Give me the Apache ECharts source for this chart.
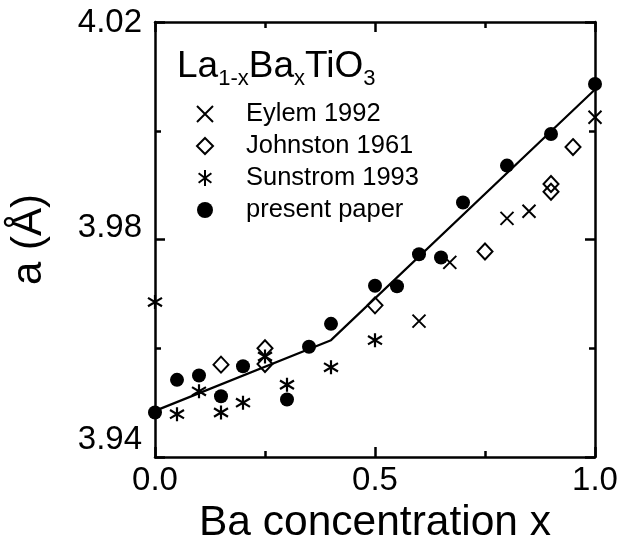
<!DOCTYPE html>
<html>
<head>
<meta charset="utf-8">
<script src="https://cdn.jsdelivr.net/npm/echarts@6/dist/echarts.min.js"></script>
<style>html,body{margin:0;padding:0;background:#fff}#c{width:621px;height:550px}</style>
</head>
<body>
<div id="c"></div>
<script>
// ---- data ----
const presentX = [0, 0.05, 0.1, 0.15, 0.2, 0.3, 0.35, 0.4, 0.5, 0.55, 0.6, 0.65, 0.7, 0.8, 0.9, 1.0];
const presentY = [3.9482, 3.9542, 3.9550, 3.9512, 3.9567, 3.9506, 3.9603, 3.9645, 3.9715, 3.9714, 3.9773, 3.9767, 3.9868, 3.9936, 3.9994, 4.0086];
const eylemX = [0.6, 0.67, 0.8, 0.85, 1.0];
const eylemY = [3.9650, 3.9758, 3.9839, 3.9852, 4.0025];
const johnstonX = [0.15, 0.25, 0.25, 0.5, 0.75, 0.9, 0.9, 0.95];
const johnstonY = [3.9570, 3.9600, 3.9571, 3.9679, 3.9778, 3.9902, 3.9888, 3.9970];
const sunstromX = [0, 0.05, 0.1, 0.15, 0.2, 0.25, 0.3, 0.4, 0.5];
const sunstromY = [3.9685, 3.9479, 3.9521, 3.9482, 3.9500, 3.9585, 3.9533, 3.9565, 3.9615];
const fitX = [0, 0.4, 1.0];
const fitY = [3.9485, 3.9615, 4.0076];
const xMajor = [0, 0.5, 1.0];
const xMinor = [0.25, 0.75];
const yMajor = [3.94, 3.98, 4.02];
const yMinor = [3.96, 4.00];
const names = ['Eylem 1992', 'Johnston 1961', 'Sunstrom 1993', 'present paper'];

const zip = (xs, ys) => xs.map((x, i) => [x, ys[i]]);
const FONT = 'Liberation Sans, Arial, Helvetica, sans-serif';
const BLACK = '#000';

const crossPath = 'path://M0,0L10,10M0,10L10,0';
const starPath = 'path://M5,0L5,10M1,2L9,8M1,8L9,2';

function xAxisDef(pos, ticks, len, showLine, showLabel) {
  return {
    type: 'value', position: pos, min: 0, max: 1, interval: 0.25,
    axisLine: {show: showLine, onZero: false, lineStyle: {color: BLACK, width: 2.5}},
    axisTick: {show: true, inside: true, length: len, customValues: ticks, lineStyle: {color: BLACK, width: 2.5}},
    axisLabel: showLabel ? {show: true, customValues: xMajor, margin: 7, color: BLACK, fontSize: 33, fontFamily: FONT,
      formatter: v => v.toFixed(1)} : {show: false},
    splitLine: {show: false}
  };
}
function yAxisDef(pos, ticks, len, showLine, showLabel) {
  return {
    type: 'value', position: pos, min: 3.94, max: 4.02, interval: 0.02,
    axisLine: {show: showLine, onZero: false, lineStyle: {color: BLACK, width: 2.5}},
    axisTick: {show: true, inside: true, length: len, customValues: ticks, lineStyle: {color: BLACK, width: 2.5}},
    axisLabel: showLabel ? {show: true, customValues: yMajor, margin: 13, color: BLACK, fontSize: 33, fontFamily: FONT,
      formatter: v => {
        const s = v.toFixed(2);
        if (Math.abs(v - 3.94) < 1e-6) return '{lo|' + s + '}';
        if (Math.abs(v - 3.98) < 1e-6) return '{mid|' + s + '}';
        return '{hi|' + s + '}';
      },
      rich: {
        lo: {fontSize: 33, fontFamily: FONT, color: BLACK, padding: [0, 0, 34, 0]},
        mid: {fontSize: 33, fontFamily: FONT, color: BLACK, padding: [0, 0, 24, 0]},
        hi: {fontSize: 33, fontFamily: FONT, color: BLACK, padding: [2, 0, 0, 0]}
      }} : {show: false},
    splitLine: {show: false}
  };
}

const xa0 = xAxisDef('bottom', xMajor, 10, true, true);
xa0.name = 'Ba concentration x';
xa0.nameLocation = 'middle';
xa0.nameGap = 33;
xa0.nameTextStyle = {fontSize: 42.5, color: BLACK, fontFamily: FONT};
const ya0 = yAxisDef('left', yMajor, 10, true, true);
ya0.name = 'a (Å)';
ya0.nameLocation = 'middle';
ya0.nameGap = 105;
ya0.nameTextStyle = {fontSize: 42, color: BLACK, fontFamily: FONT};

const option = {
  animation: false,
  backgroundColor: '#fff',
  grid: {left: 155, right: 26, top: 22, bottom: 89, containLabel: false},
  xAxis: [
    xa0,
    xAxisDef('bottom', xMinor, 6, false, false),
    xAxisDef('top', xMajor, 10, true, false),
    xAxisDef('top', xMinor, 6, false, false)
  ],
  yAxis: [
    ya0,
    yAxisDef('left', yMinor, 6, false, false),
    yAxisDef('right', yMajor, 10, true, false),
    yAxisDef('right', yMinor, 6, false, false)
  ],
  legend: {
    data: names,
    orient: 'vertical',
    left: 191, top: 96,
    itemWidth: 16, itemHeight: 16, itemGap: 6,
    itemStyle: {opacity: 1},
    textStyle: {fontSize: 25.5, lineHeight: 26, color: BLACK, fontFamily: FONT, padding: [0, 0, 0, 28]},
    selectedMode: false
  },
  graphic: [{
    type: 'text', left: 177, top: 40,
    style: {
      text: '{m|La}{s|1-x}{m|Ba}{s|x}{m|TiO}{s|3}',
      rich: {
        m: {fontSize: 37, fontFamily: FONT, fill: BLACK, lineHeight: 42, verticalAlign: 'top'},
        s: {fontSize: 22, fontFamily: FONT, fill: BLACK, lineHeight: 22, padding: [28, 0, 0, 0], verticalAlign: 'bottom'}
      }
    }
  }],
  series: [
    {
      name: 'fit', type: 'line', data: zip(fitX, fitY), showSymbol: false, symbol: 'none',
      lineStyle: {color: BLACK, width: 2.2}, z: 1, silent: true
    },
    {
      name: 'present paper', type: 'scatter', data: zip(presentX, presentY),
      symbol: 'circle', symbolSize: 14, itemStyle: {color: BLACK, opacity: 1}, z: 3
    },
    {
      name: 'Eylem 1992', type: 'scatter', data: zip(eylemX, eylemY),
      symbol: crossPath, symbolSize: 13,
      itemStyle: {color: 'rgba(0,0,0,0)', borderColor: BLACK, borderWidth: 2, opacity: 1}, z: 4
    },
    {
      name: 'Johnston 1961', type: 'scatter', data: zip(johnstonX, johnstonY),
      symbol: 'diamond', symbolSize: [15, 16],
      itemStyle: {color: 'rgba(0,0,0,0)', borderColor: BLACK, borderWidth: 2, opacity: 1}, z: 4
    },
    {
      name: 'Sunstrom 1993', type: 'scatter', data: zip(sunstromX, sunstromY),
      symbol: starPath, symbolSize: 14,
      itemStyle: {color: 'rgba(0,0,0,0)', borderColor: BLACK, borderWidth: 2.2, opacity: 1}, z: 4
    }
  ]
};
const chart = echarts.init(document.getElementById('c'), null, {renderer: 'canvas'});
chart.setOption(option);
</script>
</body>
</html>
